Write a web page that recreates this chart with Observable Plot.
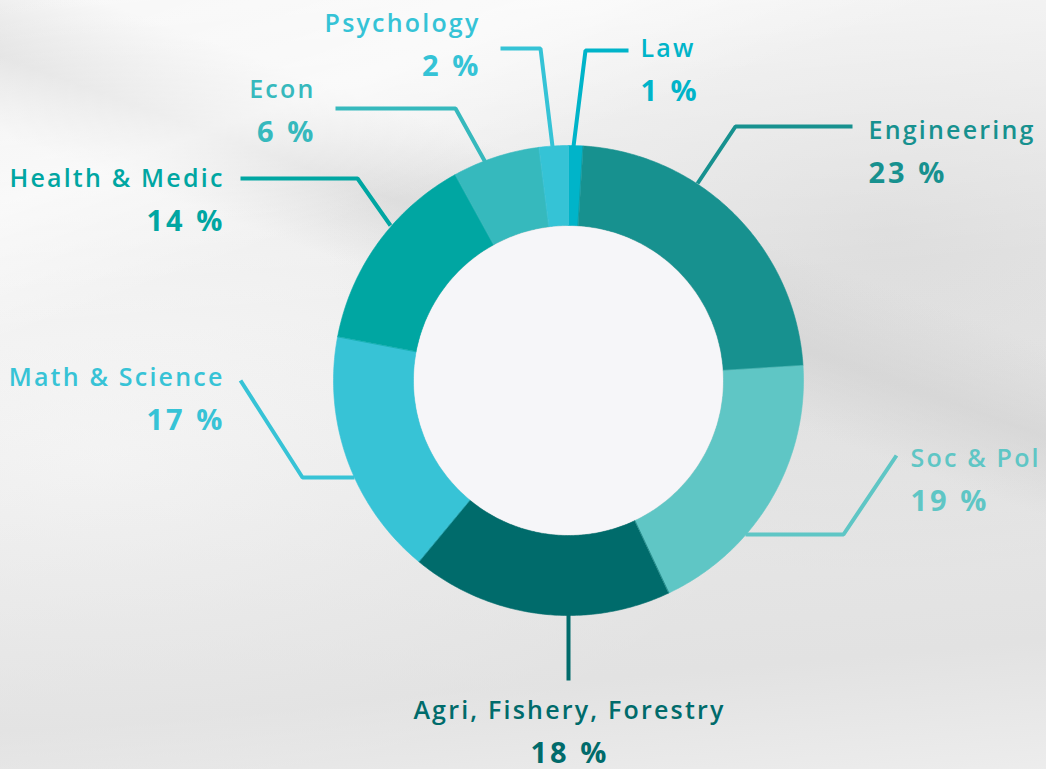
<!DOCTYPE html>
<html>
<head>
<meta charset="utf-8">
<script src="https://cdn.jsdelivr.net/npm/d3@7"></script>
<script src="https://cdn.jsdelivr.net/npm/@observablehq/plot@0.6"></script>
<style>
  html, body { margin: 0; padding: 0; }
  body {
    width: 1046px; height: 769px; overflow: hidden;
    background:
      linear-gradient(160deg, rgba(255,255,255,0.0) 0%, rgba(255,255,255,0.55) 18%, rgba(255,255,255,0) 30%),
      linear-gradient(20deg, rgba(210,210,210,0) 55%, rgba(205,205,205,0.5) 62%, rgba(225,225,225,0) 70%),
      linear-gradient(175deg, rgba(255,255,255,0.65) 0%, rgba(240,240,240,0) 40%, rgba(215,215,215,0.45) 85%, rgba(240,240,240,0.3) 100%),
      radial-gradient(ellipse at 85% 30%, rgba(215,215,215,0.7) 0%, rgba(230,230,230,0) 45%),
      radial-gradient(ellipse at 10% 60%, rgba(250,250,250,0.85) 0%, rgba(235,235,235,0) 50%),
      #ebebeb;
  }
  #chart svg { display: block; background: transparent !important; }
  #chart text.nm { letter-spacing: 2.2px; }
  #chart text.pc { letter-spacing: 3px; }
</style>
</head>
<body>
<div id="chart"></div>
<script>
// ---- data ----
const categories = ["Law", "Engineering", "Soc & Pol", "Agri, Fishery, Forestry", "Math & Science", "Health & Medic", "Econ", "Psychology"];
const shares = [1, 23, 19, 18, 17, 14, 6, 2];
const colors = ["#00b4c9", "#17918f", "#5fc6c5", "#006b6b", "#37c3d6", "#00a6a2", "#36b9bd", "#35c3d6"];

// ---- layout (pixel coordinates of the chart frame) ----
const W = 1046, H = 769;
const cx = 568, cy = 380, rOuter = 235, rInner = 155;
const leaderPts = [
  [[573,146],[585,50],[628,50]],
  [[697,183],[735,126],[852,126]],
  [[745,534],[843,534],[896,455]],
  [[568,612],[568,680]],
  [[354,477],[302,477],[240,380]],
  [[390,225],[357,178],[240,178]],
  [[485,162],[455,108],[335,108]],
  [[552,146],[540,48],[500,48]]
];
const labelPos = [
  {x:640, y:48, anchor:"start"},
  {x:868, y:130, anchor:"start"},
  {x:910, y:458, anchor:"start"},
  {x:568, y:710, anchor:"middle"},
  {x:222, y:377, anchor:"end"},
  {x:222, y:178, anchor:"end"},
  {x:313, y:89, anchor:"end"},
  {x:478, y:23, anchor:"end"}
];

// ---- build slice polygons from data ----
const pie = d3.pie().sort(null).startAngle(0).endAngle(2 * Math.PI)(shares);
const slicePolys = pie.map((p, i) => {
  const pts = [];
  const n = Math.max(4, Math.ceil((p.endAngle - p.startAngle) / 0.01));
  for (let k = 0; k <= n; k++) {
    const a = p.startAngle + (p.endAngle - p.startAngle) * k / n;
    pts.push({x: cx + rOuter * Math.sin(a), y: cy - rOuter * Math.cos(a)});
  }
  for (let k = n; k >= 0; k--) {
    const a = p.startAngle + (p.endAngle - p.startAngle) * k / n;
    pts.push({x: cx + rInner * Math.sin(a), y: cy - rInner * Math.cos(a)});
  }
  return {pts, color: colors[i]};
});

const marks = [];
slicePolys.forEach(s => {
  marks.push(Plot.line(s.pts, {x: "x", y: "y", fill: s.color, stroke: s.color, strokeWidth: 0.6, curve: "linear-closed"}));
});
marks.push(Plot.dot([{x: cx, y: cy}], {x: "x", y: "y", r: rInner - 0.5, fill: "#f6f6f9", stroke: "none"}));
leaderPts.forEach((pts, i) => {
  marks.push(Plot.line(pts.map(([x, y]) => ({x, y})), {x: "x", y: "y", stroke: colors[i], strokeWidth: 4, strokeLinejoin: "miter", strokeLinecap: "butt"}));
});
const labelData = categories.map((c, i) => ({name: c, pct: shares[i] + " %", color: colors[i], ...labelPos[i]}));
const dxFor = {start: 0, middle: 1, end: 2};
["start", "middle", "end"].forEach(anchor => {
  const sub = labelData.filter(d => d.anchor === anchor);
  marks.push(Plot.text(sub, {x: "x", y: "y", text: "name", fill: "color", textAnchor: anchor, dx: dxFor[anchor], fontSize: 25, fontFamily: "Open Sans", fontWeight: 600, lineAnchor: "middle", className: "nm"}));
  marks.push(Plot.text(sub, {x: "x", y: d => d.y + 43, text: "pct", fill: "color", textAnchor: anchor, dx: dxFor[anchor] * 1.4, fontSize: 29, fontFamily: "Open Sans", fontWeight: 700, lineAnchor: "middle", className: "pc"}));
});

const chart = Plot.plot({
  width: W, height: H,
  margin: 0,
  x: {domain: [0, W], range: [0, W], axis: null},
  y: {domain: [0, H], range: [0, H], axis: null},
  style: {background: "transparent"},
  marks
});
// apply class names to text elements (className is set on the mark group)
chart.querySelectorAll("g.nm text").forEach(t => t.classList.add("nm"));
chart.querySelectorAll("g.pc text").forEach(t => t.classList.add("pc"));
document.getElementById("chart").appendChild(chart);
</script>
</body>
</html>
